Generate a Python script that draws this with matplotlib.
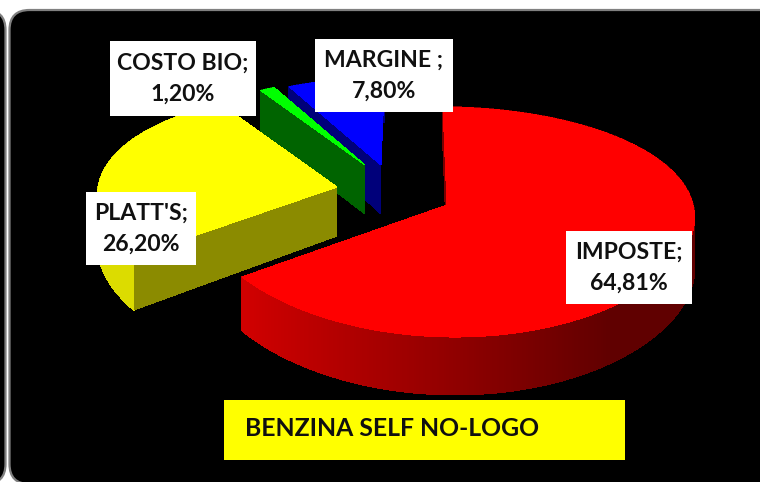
import numpy as np
import matplotlib
matplotlib.use("Agg")
import matplotlib.pyplot as plt
from matplotlib.patches import FancyBboxPatch, Rectangle

# chart data
names = ["IMPOSTE;", "PLATT'S;", "COSTO BIO;", "MARGINE ;"]
shares = [64.81, 26.20, 1.20, 7.80]
title_text = "BENZINA SELF NO-LOGO"

# look of the slices
top_cols = ["#ff0000", "#ffff00", "#00ff00", "#0000ff"]
cut_cols = ["#7a0000", "#8b8b00", "#006400", "#00007a"]
apex_x = [447, 337, 365, 381]
apex_y = [205, 187, 165, 165]
radius = [1.0, 0.97, 0.86, 0.87]
lean = [8, 0, 0, 0]
label_boxes = [(566, 231, 692, 304), (86, 192, 196, 265), (110, 41, 256, 116), (315, 39, 453, 112)]

rx, ry, persp, persp_x, depth = 246, 112.5, 0.148, 0.08, 49
start_angle = 1.0


def project(i, ang, r, z):
    # clockwise angle from 12 o'clock onto the tilted disc
    u = r * np.sin(np.radians(ang))
    v = r * np.cos(np.radians(ang))
    w = 1 + persp * v
    x = apex_x[i] + rx * u / (1 + persp_x * v) - lean[i] * v
    return x, apex_y[i] - ry * v / w + z * depth / w


def draw_slice(ax, i, a0, a1):
    angs = np.linspace(a0, a1, int(a1 - a0) * 2 + 4)
    r = radius[i]

    # outer rim, in small strips so the red one can shade
    for k in range(len(angs) - 1):
        a, b = angs[k], angs[k + 1]
        p1, p2 = project(i, a, r, 0), project(i, b, r, 0)
        p3, p4 = project(i, b, r, 1), project(i, a, r, 1)
        if i == 0:
            t = np.clip((np.sin(np.radians(a)) + 0.8) / 1.4, 0, 1)
            col = ((208 - t * 112) / 255, 0, 0)
        elif i == 1:
            col = "#dcdc00"
        else:
            col = cut_cols[i]
        ax.fill(*zip(p1, p2, p3, p4), color=col, lw=0.6, antialiased=False)

    # cut face at the start of the slice
    face = [project(i, a0, 0, 0), project(i, a0, r, 0), project(i, a0, r, 1), project(i, a0, 0, 1)]
    ax.fill(*zip(*face), color=cut_cols[i], lw=0, antialiased=False)

    # top surface
    pts = [project(i, a, r, 0) for a in angs]
    pts.append(project(i, a0, 0, 0))
    ax.fill(*zip(*pts), color=top_cols[i], lw=0, antialiased=False)


fig = plt.figure(figsize=(7.6, 4.82), dpi=100, facecolor="white")
ax = fig.add_axes([0, 0, 1, 1])
ax.set_xlim(0, 760)
ax.set_ylim(482, 0)
ax.axis("off")

# the two rounded black panels behind the chart
for x0, x1 in [(-120, 5.5), (9.5, 900)]:
    ax.add_patch(FancyBboxPatch((x0 + 20, 30), x1 - x0 - 40, 434,
                                boxstyle="round,pad=20,rounding_size=20",
                                fc="black", ec="#808080", lw=1.6))

# angles run clockwise from the top, in the order of the shares
edges = start_angle + np.cumsum([0] + shares) * 360.0 / sum(shares)
for i in [3, 2, 1, 0]:
    draw_slice(ax, i, edges[i], edges[i + 1])

for i, box in enumerate(label_boxes):
    ax.add_patch(Rectangle((box[0], box[1]), box[2] - box[0], box[3] - box[1], fc="white", ec="none", zorder=5))
    value = f"{shares[i]:.2f}".replace(".", ",") + "%"
    ax.text((box[0] + box[2]) / 2, (box[1] + box[3]) / 2, names[i] + "\n" + value, ha="center", va="center",
            family="Lato", weight="bold", fontsize=16.6, linespacing=1.56, color="#101010", zorder=6)

ax.add_patch(Rectangle((224, 400), 401, 60, fc="#ffff00", ec="none", zorder=5))
ax.text(245, 429, title_text, ha="left", va="center", family="Lato", weight="bold", fontsize=17.8,
        color="#101010", zorder=6)

plt.savefig("out.png", dpi=100)
